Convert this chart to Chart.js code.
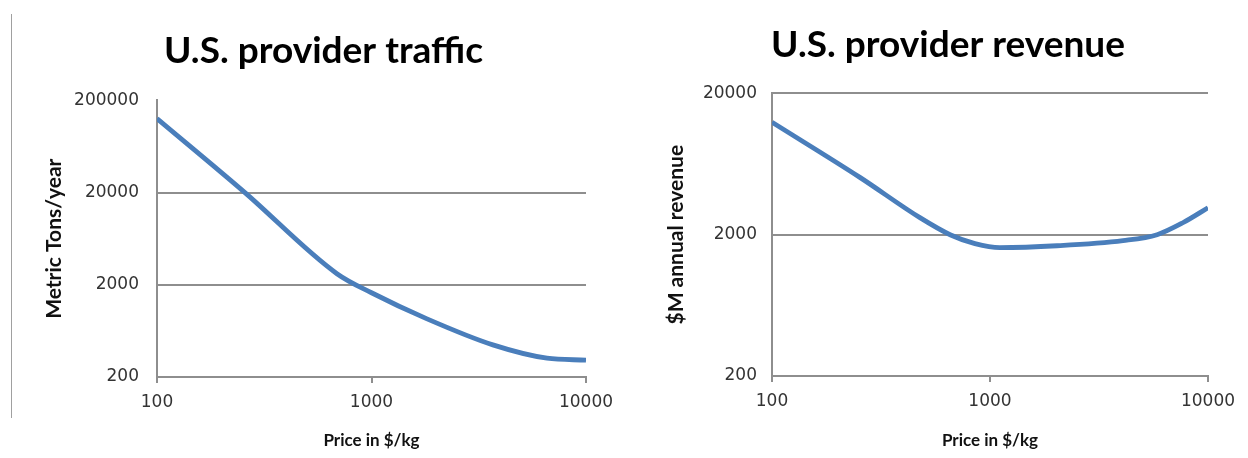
<!DOCTYPE html>
<html>
<head>
<meta charset="utf-8">
<script src="https://cdn.jsdelivr.net/npm/chart.js@4"></script>
<style>
  body { margin: 0; background: #fff; }
  .wrap { position: absolute; top: 0; width: 624px; height: 458px; }
  #frame { position: absolute; left: 11px; top: 14px; width: 1px; height: 404px; background: #a0a0a0; }
</style>
</head>
<body>
<div id="frame"></div>
<div class="wrap" style="left:0"><canvas id="traffic-chart" width="624" height="458"></canvas></div>
<div class="wrap" style="left:624px"><canvas id="revenue-chart" width="624" height="458"></canvas></div>
<script>
// x axis labels (price in $/kg)
const xTicks = [100, 1000, 10000];
// y axis labels
const trafficTicks = [200, 2000, 20000, 200000];
const revenueTicks = [200, 2000, 20000];

// traffic curve
const trafficPrice = [100, 257, 690, 1000, 1815, 3680, 6580, 10000];
const trafficTons = [127000, 20000, 2640, 1640, 854, 446, 320, 305];

// revenue curve
const revenuePrice = [100, 253, 477, 656, 853, 1110, 2030, 4075, 5840, 7670, 10000];
const revenueMillions = [12500, 5090, 2640, 2000, 1730, 1620, 1670, 1815, 2000, 2430, 3100];

const gridColor = '#8e8e8e';
const lineColor = '#4a7ebb';

function makeChart(id, opt) {
  const points = opt.xs.map((x, i) => ({ x: x, y: opt.ys[i] }));
  return new Chart(document.getElementById(id), {
    type: 'line',
    data: {
      datasets: [{
        data: points,
        borderColor: lineColor,
        borderWidth: 4.8,
        pointRadius: 0,
        cubicInterpolationMode: 'monotone',
      }],
    },
    options: {
      responsive: false,
      animation: false,
      devicePixelRatio: 1,
      layout: { padding: { left: opt.padLeft, right: 0, top: 0, bottom: 0 } },
      plugins: {
        legend: { display: false },
        tooltip: { enabled: false },
        title: {
          display: true,
          text: opt.title,
          color: '#000',
          font: { family: 'Lato', size: 37, weight: 'bold' },
          padding: { top: opt.titleTop, bottom: opt.titleBottom },
        },
      },
      scales: {
        x: {
          type: 'logarithmic',
          min: 100,
          max: 10000,
          afterBuildTicks: (s) => { s.ticks = xTicks.map((v) => ({ value: v })); },
          afterFit: (s) => {
            s.height = opt.xHeight;
            s.paddingLeft = 0;
            s.paddingRight = opt.rightGap;
          },
          grid: {
            drawOnChartArea: false,
            drawTicks: true,
            tickLength: 6,
            tickColor: gridColor,
            lineWidth: 2,
          },
          border: { display: true, color: gridColor, width: 2 },
          ticks: {
            padding: 9,
            maxRotation: 0,
            color: '#333',
            font: { family: 'DejaVu Sans', size: 17 },
            callback: (v) => String(v),
          },
          title: {
            display: true,
            text: 'Price in $/kg',
            color: '#111',
            font: { family: 'Lato', size: 17, weight: 'bold' },
            padding: { top: 0, bottom: 7 },
          },
        },
        y: {
          type: 'logarithmic',
          min: opt.yTicks[0],
          max: opt.yTicks[opt.yTicks.length - 1],
          afterBuildTicks: (s) => { s.ticks = opt.yTicks.map((v) => ({ value: v })); },
          afterFit: (s) => {
            s.width = opt.yWidth;
            s.paddingTop = 0;
            s.paddingBottom = 0;
          },
          grid: {
            drawTicks: false,
            lineWidth: 2,
            color: (ctx) => (opt.gridAt.includes(ctx.tick && ctx.tick.value) ? gridColor : 'rgba(0,0,0,0)'),
          },
          border: { display: true, color: gridColor, width: 2 },
          ticks: {
            padding: opt.tickGap,
            color: '#333',
            font: { family: 'DejaVu Sans', size: 17 },
            callback: (v) => String(v),
          },
          title: {
            display: true,
            text: opt.yTitle,
            color: '#111',
            font: { family: 'Lato', size: 21, weight: 'bold' },
            padding: { top: opt.yTitlePad, bottom: 0 },
          },
        },
      },
    },
  });
}

// 왼쪽: traffic
makeChart('traffic-chart', {
  title: 'U.S. provider traffic',
  yTitle: 'Metric Tons/year',
  xs: trafficPrice,
  ys: trafficTons,
  yTicks: trafficTicks,
  gridAt: [2000, 20000],
  padLeft: 23,
  yWidth: 134,
  yTitlePad: 19,
  tickGap: 18,
  rightGap: 38,
  xHeight: 81,
  titleTop: 29,
  titleBottom: 27,
});

// 오른쪽: revenue
makeChart('revenue-chart', {
  title: 'U.S. provider revenue',
  yTitle: '$M annual revenue',
  xs: revenuePrice,
  ys: revenueMillions,
  yTicks: revenueTicks,
  gridAt: [2000, 20000],
  padLeft: 24,
  yWidth: 124,
  yTitlePad: 16,
  tickGap: 15,
  rightGap: 40,
  xHeight: 82,
  titleTop: 23,
  titleBottom: 26,
});
</script>
</body>
</html>
